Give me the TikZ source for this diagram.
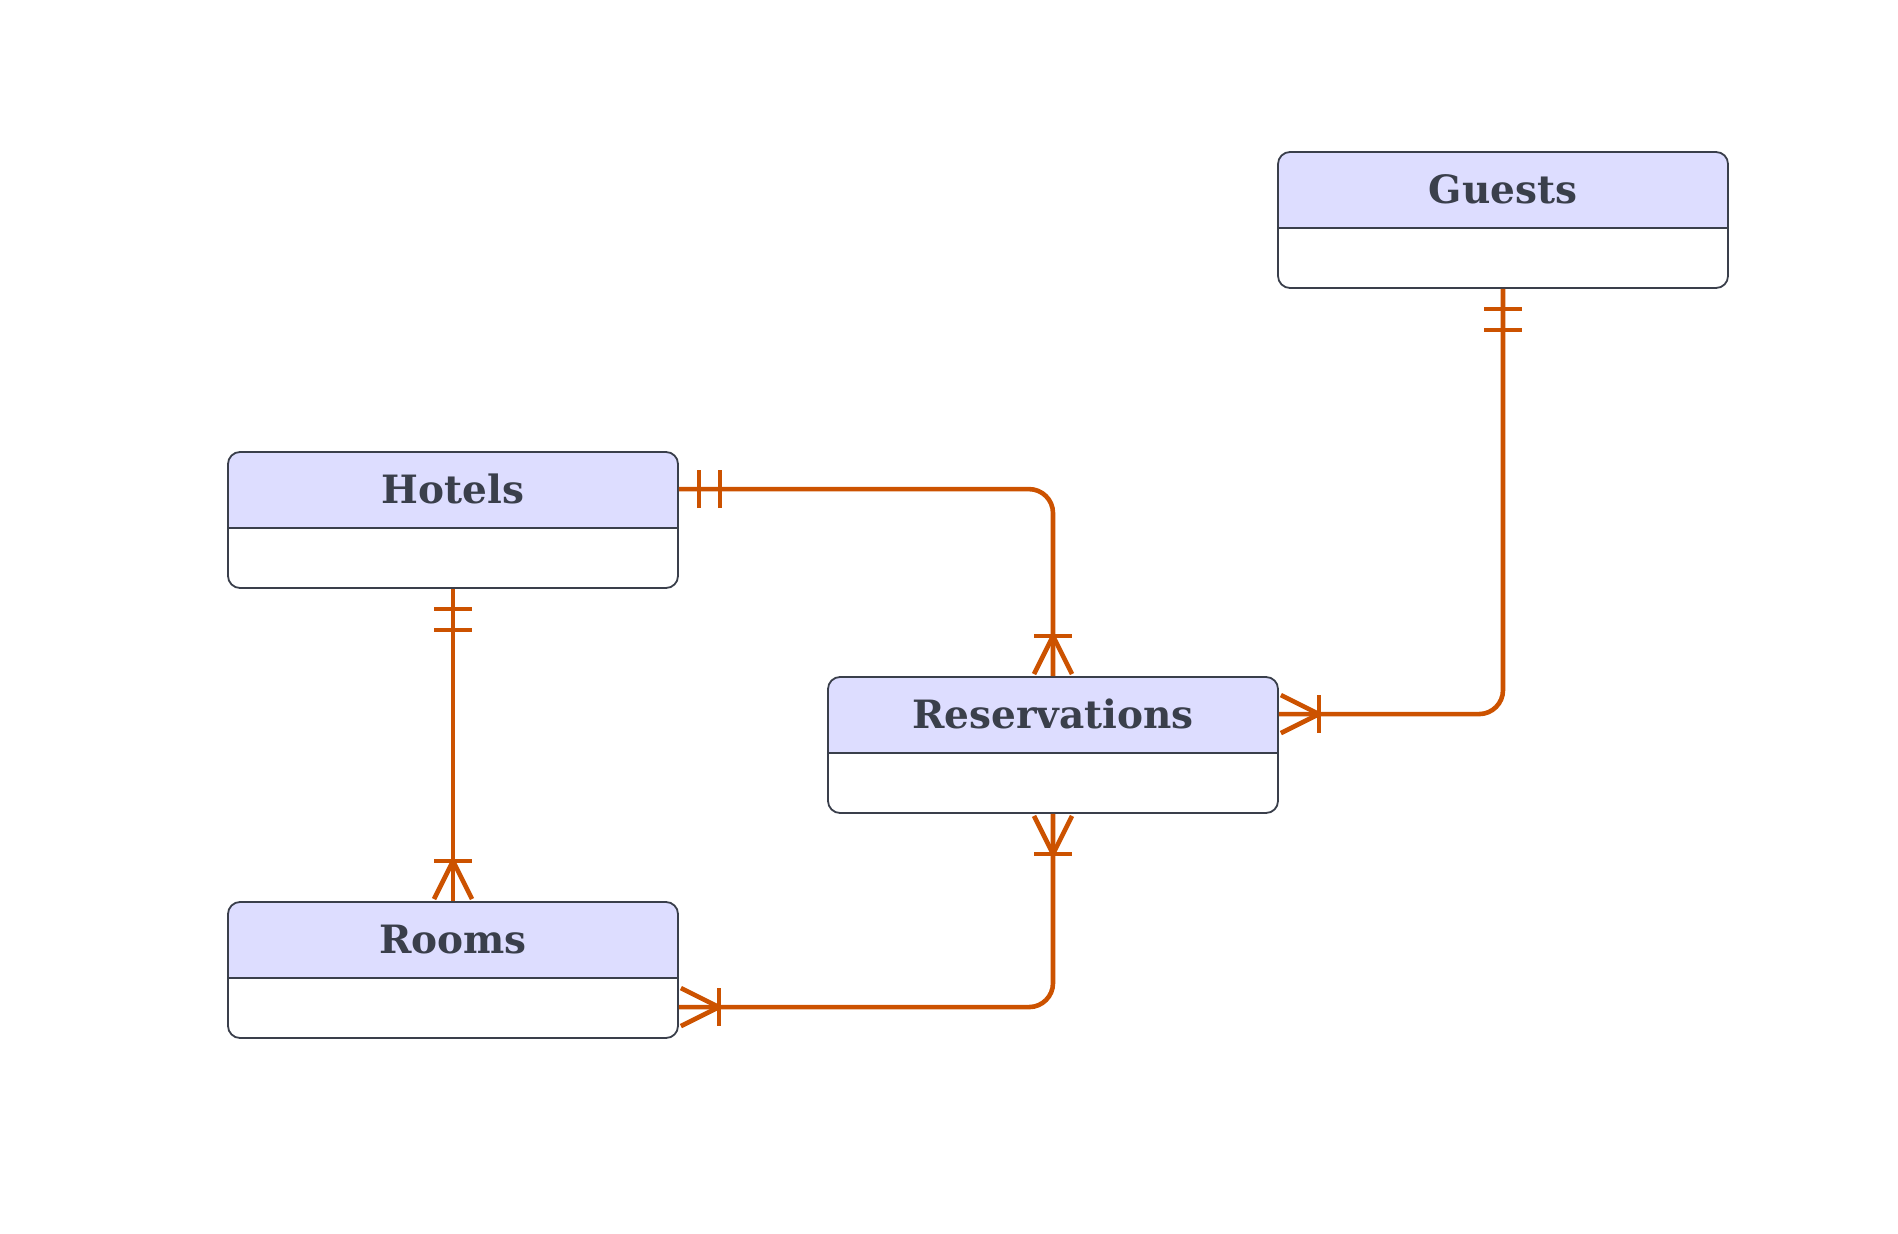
\documentclass[tikz,border=0pt]{standalone}
\usepackage{fontspec}
\setmainfont{DejaVu Serif}
\usepackage{tikz}
\usetikzlibrary{decorations.markings}
\definecolor{hdr}{RGB}{221,221,255}
\definecolor{brd}{RGB}{58,63,75}
\definecolor{rel}{RGB}{204,82,0}
\tikzset{
  ent/.style={draw=brd, line width=0.9pt, fill=white, rounded corners=6pt, minimum width=225pt, minimum height=68pt, inner sep=0pt,
    path picture={\fill[hdr, sharp corners] (path picture bounding box.north west) rectangle ([yshift=-38pt]path picture bounding box.north east);
      \draw[brd, line width=1.2pt, sharp corners] ([yshift=-38pt]path picture bounding box.north west) -- ([yshift=-38pt]path picture bounding box.north east);}},
  title/.style={text=brd, font=\bfseries\fontsize{19.5}{22}\selectfont},
  relline/.style={draw=rel, line width=2.3pt},
  bar/.style={draw=rel, line width=2.3pt, sharp corners},
  onestart/.style={postaction={decorate, decoration={markings,
    mark=at position 10pt with {\draw[bar] (0,-9.5pt) -- (0,9.5pt);},
    mark=at position 20.5pt with {\draw[bar] (0,-9.5pt) -- (0,9.5pt);}}}},
  manystart/.style={postaction={decorate, decoration={markings,
    mark=at position 20pt with {\draw[bar] (0,-9.5pt) -- (0,9.5pt); \draw[bar] (-19pt,9.5pt) -- (0,0) -- (-19pt,-9.5pt);}}}},
  manyend/.style={postaction={decorate, decoration={markings,
    mark=at position -20pt with {\draw[bar] (0,-9.5pt) -- (0,9.5pt); \draw[bar] (19pt,9.5pt) -- (0,0) -- (19pt,-9.5pt);}}}}
}
\begin{document}
\begin{tikzpicture}[x=0.5pt, y=-0.5pt]
\useasboundingbox (0,0) rectangle (1898,1234);
\node[ent] (guests) at (1503,220) {};
\node[ent] (hotels) at (453,520) {};
\node[ent] (reservations) at (1053,745) {};
\node[ent] (rooms) at (453,970) {};
\node[title] (guests-t) at ([yshift=-19pt]guests.north) {Guests};
\node[title] (hotels-t) at ([yshift=-19pt]hotels.north) {Hotels};
\node[title] (reservations-t) at ([yshift=-19pt]reservations.north) {Reservations};
\node[title] (rooms-t) at ([yshift=-19pt]rooms.north) {Rooms};
\draw[relline, onestart, manyend, rounded corners=12pt] ([yshift=-19pt]hotels.north east) -| (reservations.north);
\draw[relline, onestart, manyend] (hotels.south) -- (rooms.north);
\draw[relline, onestart, manyend, rounded corners=12pt] (guests.south) |- ([yshift=-19pt]reservations.north east);
\draw[relline, manystart, manyend, rounded corners=12pt] (reservations.south) |- ([yshift=-53pt]rooms.north east);
\end{tikzpicture}
\end{document}
